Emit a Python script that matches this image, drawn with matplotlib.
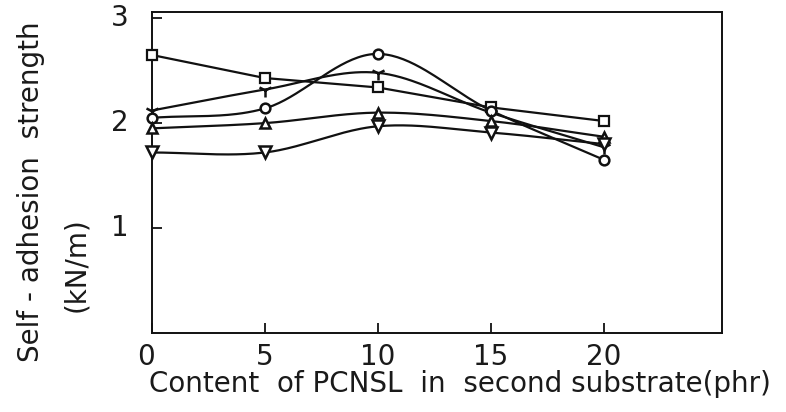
import numpy as np
import matplotlib
matplotlib.use("Agg")
import matplotlib.pyplot as plt

# PCNSL content in the second substrate (phr)
content = [0, 5, 10, 15, 20]

# Self-adhesion strength (kN/m) for each series
s_square = [2.65, 2.43, 2.34, 2.15, 2.02]
s_tri = [2.12, 2.32, 2.48, 2.10, 1.77]
s_circle = [2.05, 2.14, 2.66, 2.12, 1.65]
s_up = [1.95, 2.00, 2.10, 2.02, 1.87]
s_down = [1.72, 1.72, 1.97, 1.91, 1.80]

x_ticks = [0, 5, 10, 15, 20]
y_ticks = [1, 2, 3]


def smooth(xs, ys, n=40):
    """Catmull-Rom curve through the given points for drawing."""
    xs = np.asarray(xs, float)
    ys = np.asarray(ys, float)
    px = np.concatenate([[2 * xs[0] - xs[1]], xs, [2 * xs[-1] - xs[-2]]])
    py = np.concatenate([[2 * ys[0] - ys[1]], ys, [2 * ys[-1] - ys[-2]]])
    ox, oy = [], []
    t = np.linspace(0, 1, n, endpoint=False)
    for i in range(1, len(px) - 2):
        for arr, out in ((px, ox), (py, oy)):
            p0, p1, p2, p3 = arr[i - 1], arr[i], arr[i + 1], arr[i + 2]
            out.extend(0.5 * ((2 * p1) + (-p0 + p2) * t
                              + (2 * p0 - 5 * p1 + 4 * p2 - p3) * t ** 2
                              + (-p0 + 3 * p1 - 3 * p2 + p3) * t ** 3))
    ox.append(xs[-1])
    oy.append(ys[-1])
    return np.array(ox), np.array(oy)


fig = plt.figure(figsize=(7.86, 4.12), dpi=100)
ax = fig.add_axes([0.193, 0.192, 0.725, 0.779])

lw = 1.6
col = "#111111"

# square series: straight segments
ax.plot(content, s_square, color=col, lw=lw, marker="s", ms=7.5,
        mfc="white", mec=col, mew=1.6, clip_on=False, zorder=3)

for ys, mk, ms, fill in ((s_tri, "1", 10, col),
                         (s_circle, "o", 7, "white"),
                         (s_up, "^", 7.5, "white"),
                         (s_down, "v", 8, "white")):
    cx, cy = smooth(content, ys)
    ax.plot(cx, cy, color=col, lw=lw, clip_on=False)
    ax.plot(content, ys, ls="none", marker=mk, ms=ms, mfc=fill,
            mec=col, mew=1.8, clip_on=False, zorder=3)

ax.set_xlim(0, 25.2)
ax.set_ylim(0, 3.06)
ax.set_xticks(x_ticks)
ax.set_yticks(y_ticks)
ax.set_xticklabels([])
ax.set_yticklabels([])
ax.tick_params(direction="in", length=7, width=1.3, color=col)
for sp in ax.spines.values():
    sp.set_linewidth(1.4)
    sp.set_color(col)

tfont = dict(fontsize=20, family="DejaVu Sans", color="#1a1a1a")
for v in x_ticks:
    ax.annotate(str(v), (v, 0), xytext=(0 if v else -4, -7),
                textcoords="offset points", ha="center", va="top", **tfont)
for v in y_ticks:
    ax.annotate(str(v), (0, v), xytext=(-23, 0), textcoords="offset points",
                ha="center", va="center", **tfont)

fig.text(0.585, 0.068, "Content  of PCNSL  in  second substrate(phr)",
         ha="center", va="center", **tfont)
fig.text(0.040, 0.535, "Self - adhesion  strength", rotation=90,
         ha="center", va="center", **tfont)
fig.text(0.097, 0.357, "(kN/m)", rotation=90,
         ha="center", va="center", **tfont)

fig.savefig("out.png", dpi=100)
